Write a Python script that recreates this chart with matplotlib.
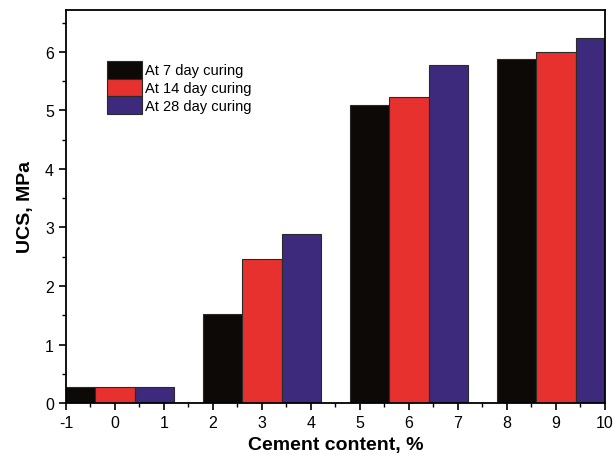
import numpy as np
import matplotlib.pyplot as plt
from matplotlib.ticker import MultipleLocator

plt.rcParams['font.family'] = ['Liberation Sans', 'DejaVu Sans']
plt.rcParams['axes.unicode_minus'] = False

# Data
cement = np.array([0, 3, 6, 9])
ucs_7 = [0.28, 1.53, 5.10, 5.87]
ucs_14 = [0.28, 2.47, 5.23, 5.99]
ucs_28 = [0.28, 2.89, 5.78, 6.23]
labels = ['At 7 day curing', 'At 14 day curing', 'At 28 day curing']
colors = ['#0d0907', '#e6312e', '#3e2a7c']

fig = plt.figure(figsize=(6.16, 4.64), dpi=100)
ax = fig.add_axes([0.107, 0.129, 0.875, 0.848])

w = 0.8
for vals, off, lab, col in zip([ucs_7, ucs_14, ucs_28], [-w, 0, w], labels, colors):
    ax.bar(cement + off, vals, width=w, color=col, edgecolor='#2a2a2a',
           linewidth=0.8, label=lab)

ax.set_xlim(-1, 10)
ax.set_ylim(0, 6.72)
ax.xaxis.set_major_locator(MultipleLocator(1))
ax.xaxis.set_minor_locator(MultipleLocator(0.5))
ax.yaxis.set_major_locator(MultipleLocator(1))
ax.yaxis.set_minor_locator(MultipleLocator(0.5))
ax.tick_params(which='major', direction='out', length=5, width=1.2, labelsize=11.5)
ax.tick_params(which='minor', direction='out', length=3, width=1.0)
for s in ax.spines.values():
    s.set_linewidth(1.3)

ax.set_xlabel('Cement content, %', fontsize=14, fontweight='bold', labelpad=4)
ax.set_ylabel('UCS, MPa', fontsize=14, fontweight='bold', labelpad=8)

ax.legend(loc='upper left', bbox_to_anchor=(0.066, 0.885), frameon=False,
          fontsize=10.5, handlelength=2.4, handleheight=1.5,
          labelspacing=0.0, handletextpad=0.2, borderaxespad=0)

fig.savefig('out.png', dpi=100)
